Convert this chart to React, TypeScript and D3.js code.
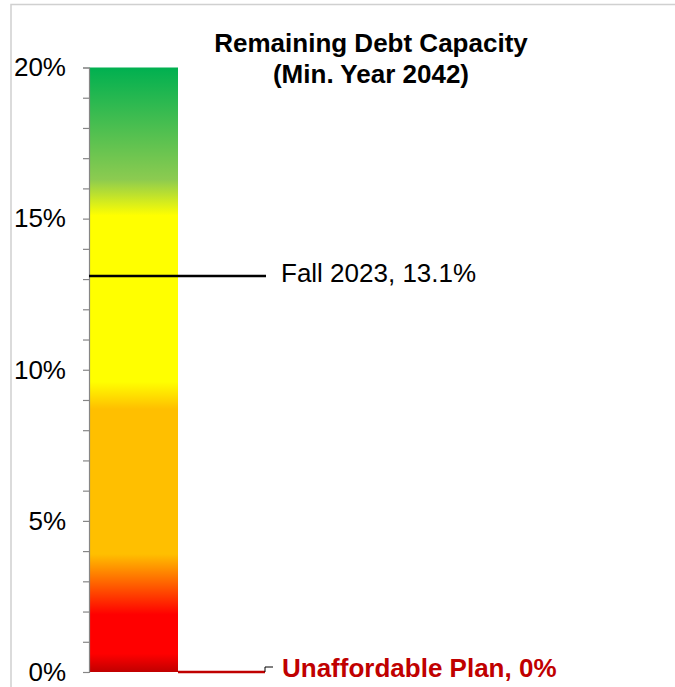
import React, { useEffect, useRef } from 'react';
import * as d3 from 'd3';

// chart values
const category = ['Remaining Debt Capacity'];
const barValues = [20];
const majorTicks = [0, 5, 10, 15, 20];
const tickLabels = ['0%', '5%', '10%', '15%', '20%'];

// colour bands of the gradient, by % value
const stopValues = [20, 16.3, 15.1, 9.6, 8.7, 3.9, 1.9, 0.6, 0];
const stopColors = ['#00B050', '#8CCB50', '#FFFF00', '#FFFF00', '#FFBF00', '#FFBF00', '#FF0000', '#FF0000', '#C00000'];

const markerLabels = ['Fall 2023, 13.1%', 'Unaffordable Plan, 0%'];
const markerValues = [13.1, 0];

const width = 675;
const height = 687;
const font = '"Liberation Sans", Arial, sans-serif';

const App: React.FC = () => {
    const svgRef = useRef(null);

    useEffect(() => {
        const svg = d3.select(svgRef.current);
        svg.selectAll('*').remove();

        const yScale = d3.scaleLinear().domain([0, 20]).range([672, 67.5]);
        const xScale = d3.scaleBand().domain(category).range([89, 178]).padding(0);

        // outer frame (only top & left visible in the crop)
        svg.append('path')
            .attr('d', `M11,${height} V4.5 H${width}`)
            .attr('fill', 'none')
            .attr('stroke', '#D0D0D0')
            .attr('stroke-width', 1.5);

        // gradient
        const grad = svg.append('defs').append('linearGradient')
            .attr('id', 'capGrad')
            .attr('gradientUnits', 'userSpaceOnUse')
            .attr('x1', 0).attr('x2', 0)
            .attr('y1', yScale(20)).attr('y2', yScale(0));
        stopValues.forEach((v, i) => {
            grad.append('stop')
                .attr('offset', (yScale(v) - yScale(20)) / (yScale(0) - yScale(20)))
                .attr('stop-color', stopColors[i]);
        });

        // bar
        svg.selectAll('rect.bar')
            .data(barValues)
            .enter().append('rect')
            .attr('class', 'bar')
            .attr('x', (d, i) => xScale(category[i])!)
            .attr('width', xScale.bandwidth())
            .attr('y', d => yScale(d))
            .attr('height', d => yScale(0) - yScale(d))
            .attr('fill', 'url(#capGrad)');

        // y axis
        const axis = d3.axisLeft(yScale)
            .tickValues(d3.range(0, 21, 1))
            .tickSize(6)
            .tickFormat(() => '');
        const gAxis = svg.append('g').attr('transform', 'translate(89,0)').call(axis);
        gAxis.select('.domain').attr('stroke', '#868686').attr('stroke-width', 1.2);
        gAxis.selectAll('.tick line').attr('stroke', '#868686').attr('stroke-width', 1.2);

        svg.append('g').selectAll('text')
            .data(majorTicks)
            .enter().append('text')
            .attr('x', 66)
            .attr('y', d => yScale(d))
            .attr('dy', '0.34em')
            .attr('text-anchor', 'end')
            .attr('font-family', font)
            .attr('font-size', 26)
            .attr('fill', '#000')
            .text((d, i) => tickLabels[i]);

        // Fall 2023 marker
        const fy = yScale(markerValues[0]);
        svg.append('line')
            .attr('x1', 89).attr('x2', 266)
            .attr('y1', fy).attr('y2', fy)
            .attr('stroke', '#000').attr('stroke-width', 2.6);
        svg.append('text')
            .attr('x', 281).attr('y', fy + 6)
            .attr('font-family', font)
            .attr('font-size', 26)
            .attr('fill', '#000')
            .text(markerLabels[0]);

        // Unaffordable marker
        const uy = yScale(markerValues[1]);
        svg.append('line')
            .attr('x1', 178).attr('x2', 265)
            .attr('y1', uy).attr('y2', uy)
            .attr('stroke', '#C00000').attr('stroke-width', 2.4);
        svg.append('path')
            .attr('d', `M265,${uy} V${uy - 5} H273`)
            .attr('fill', 'none')
            .attr('stroke', '#000').attr('stroke-width', 1);
        svg.append('text')
            .attr('x', 282).attr('y', uy + 5)
            .attr('font-family', font)
            .attr('font-size', 26)
            .attr('font-weight', 'bold')
            .attr('fill', '#C00000')
            .text(markerLabels[1]);

        // title
        const title = svg.append('text')
            .attr('text-anchor', 'middle')
            .attr('font-family', font)
            .attr('font-size', 26)
            .attr('font-weight', 'bold')
            .attr('fill', '#000');
        title.append('tspan').attr('x', 371).attr('y', 52).text('Remaining Debt Capacity');
        title.append('tspan').attr('x', 371).attr('y', 83).text('(Min. Year 2042)');
    }, []);

    return (
        <svg
            ref={svgRef}
            width={width}
            height={height}
            style={{ position: 'absolute', left: 0, top: 0, backgroundColor: 'white' }}
        ></svg>
    );
};

export default App;
